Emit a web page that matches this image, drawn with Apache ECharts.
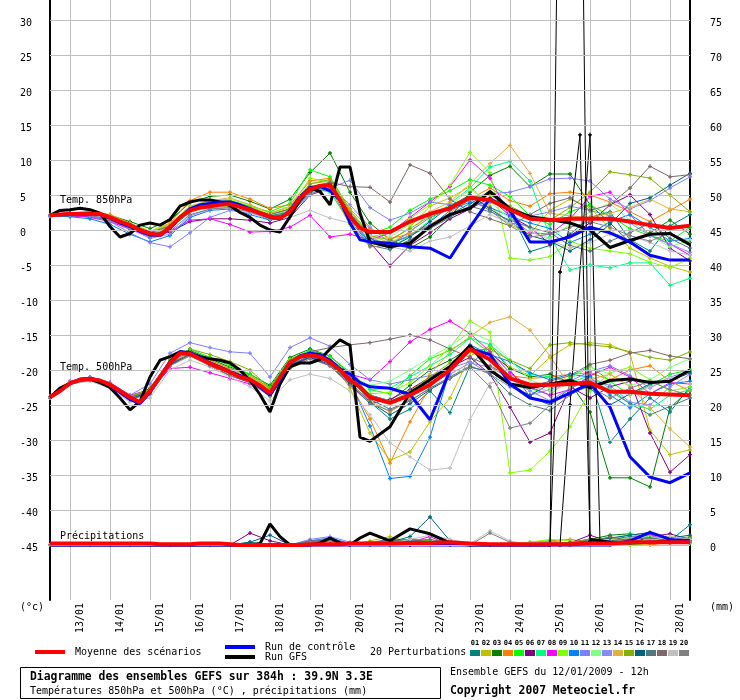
<!DOCTYPE html>
<html><head><meta charset="utf-8">
<script src="https://cdn.jsdelivr.net/npm/echarts@6/dist/echarts.min.js"></script>
<style>html,body{margin:0;padding:0;background:#fff}#c{width:740px;height:700px}</style>
</head><body><div id="c"></div>
<script>
// ---------- categories / ticks ----------
const CATEGORY_HOURS = [0,6,12,18,24,30,36,42,48,54,60,66,72,78,84,90,96,102,108,114,120,126,132,138,144,150,156,162,168,174,180,186,192,198,204,210,216,222,228,234,240,246,252,258,264,270,276,282,288,294,300,306,312,318,324,330,336,342,348,354,360,366,372,378,384];
const Y_TICKS_C = [-45,-40,-35,-30,-25,-20,-15,-10,-5,0,5,10,15,20,25,30];
const Y_TICKS_MM = [0,5,10,15,20,25,30,35,40,45,50,55,60,65,70,75];
const HOURS_MAIN = [0,6,12,18,24,30,36,42,48,54,60,66,72,78,84,90,96,102,108,114,120,126,132,138,144,150,156,162,168,174,180,186,192,204,216,228,240,252,264,276,288,300,312,324,336,348,360,372,384];
const HOURS_PERT = [0,12,24,36,48,60,72,84,96,108,120,132,144,156,168,180,192,204,216,228,240,252,264,276,288,300,312,324,336,348,360,372,384];

// ---------- main series ----------
const MEAN_850 = [2.1,2.2,2.3,2.3,2.3,2.3,1.8,1.2,0.7,0.0,-0.5,-0.7,0.4,1.8,2.8,3.2,3.4,3.6,3.7,3.3,2.9,2.4,1.9,1.7,2.6,4.6,5.8,6.3,6.4,4.3,1.9,0.3,-0.3,
  -0.3,1.2,2.3,3.1,4.6,4.3,2.9,1.6,1.4,1.6,1.6,1.6,1.2,0.7,0.3,0.6];
const CTRL_850 = [2.1,2.2,2.3,2.4,2.3,2.2,1.7,1.0,0.5,-0.2,-0.7,-0.8,0.2,1.8,3.0,3.6,3.8,4.0,4.0,3.6,3.0,2.4,1.8,1.6,2.8,4.8,6.0,6.2,5.6,4.3,1.0,-1.4,-1.7,
  -1.9,-2.4,-2.6,-4.0,0.4,4.5,2.8,-1.7,-1.7,-1.0,0.4,-0.4,-1.7,-3.6,-4.3,-4.3];
const GFS_850 = [2.1,2.8,2.9,3.1,2.9,2.4,0.5,-1.0,-0.5,0.7,1.0,0.7,1.5,3.4,4.0,4.3,4.3,4.0,3.5,2.5,1.8,0.7,0.0,-0.3,1.9,4.3,6.0,5.5,3.6,9.0,9.0,2.4,-1.7,
  -2.4,-1.9,0.5,2.2,3.1,5.5,3.0,1.9,1.5,1.0,0.0,-2.5,-1.5,-0.6,-0.5,-2.1];
const MEAN_500 = [-23.9,-23.0,-21.9,-21.4,-21.3,-21.5,-22.1,-23.0,-23.9,-24.6,-23.0,-21.0,-19.0,-17.6,-17.7,-18.4,-19.1,-19.7,-20.3,-21.0,-21.4,-22.2,-23.3,-21.0,-18.9,-18.1,-17.9,-18.1,-18.9,-20.0,-21.4,-22.4,-23.9,
  -24.7,-23.6,-22.1,-20.0,-17.0,-18.5,-21.2,-22.1,-22.1,-22.0,-21.8,-23.1,-23.1,-23.4,-23.5,-23.6];
const CTRL_500 = [-23.9,-23.0,-21.9,-21.3,-21.2,-21.5,-22.2,-23.2,-24.2,-24.8,-23.2,-21.0,-18.8,-17.4,-17.5,-18.2,-19.0,-19.6,-20.2,-20.8,-21.4,-22.4,-23.6,-21.4,-19.0,-18.0,-17.6,-17.8,-18.6,-19.8,-20.6,-21.8,-22.4,
  -22.6,-23.5,-27.1,-20.0,-17.0,-17.8,-22.0,-24.0,-24.6,-23.3,-21.9,-25.3,-32.4,-35.3,-36.1,-34.7];
const GFS_500 = [-23.9,-22.6,-21.9,-21.4,-21.3,-21.8,-22.5,-24.0,-25.7,-24.5,-21.0,-18.6,-18.1,-17.4,-17.6,-18.1,-18.4,-18.6,-19.0,-20.0,-21.5,-23.5,-26.0,-22.0,-19.5,-19.0,-19.0,-18.5,-17.0,-15.7,-16.5,-29.6,-30.2,
  -28.1,-23.3,-21.4,-19.5,-16.5,-20.0,-22.0,-22.5,-22.0,-21.5,-22.5,-21.5,-21.3,-21.8,-21.6,-20.0];
const MEAN_PRECIP = [0.2,0.2,0.2,0.2,0.2,0.2,0.2,0.2,0.2,0.2,0.2,0.1,0.1,0.1,0.1,0.2,0.2,0.2,0.1,0,0,0,0,0,0,0,0.1,0.1,0.1,0.1,0.2,0.2,0.2,
  0.2,0.3,0.3,0.4,0.2,0.1,0.1,0.1,0.1,0.1,0.2,0.2,0.4,0.4,0.4,0.4];
const CTRL_PRECIP = [0,0,0,0,0,0,0,0,0,0,0,0,0,0,0,0,0,0,0,0,0,0,0,0,0,0,0,0,0,0,0,0,0,
  0,0,0,0,0,0,0,0,0,0,0,0,0.6,1.8,0.8,0.6];
const GFS_PRECIP = [0,0,0,0,0,0,0,0,0,0,0,0,0,0,0,0,0,0,0,0,0,0.2,3.0,1.2,0,0,0,0.3,1.0,0.3,0,1.0,1.7,
  0.6,2.3,1.6,0.3,0,0,0,0,0,null,0.8,0.4,0.3,0.4,0.5,0.5];
const GFS_SPIKE_HOURS = [300,312,324];
const GFS_SPIKE_PRECIP = [0,240,0.8];
const THIN_A_HOURS = [300,306,312,318,324];
const THIN_A_PRECIP = [0,39,46,58.6,0.5];
const THIN_B_HOURS = [306,312,324,330];
const THIN_B_PRECIP = [0,20,58.6,0.3];

// ---------- 20 perturbations ----------
const PERT_COLORS = ['#008080','#c0c000','#008000','#ff8000','#00ff00','#800080','#00ff80','#ff00ff','#80ff00','#0080ff',
  '#8080ff','#80ff80','#8888ff','#e0b040','#80b000','#006080','#507880','#806868','#c0c0c0','#808080'];
const PERT_850 = [
 [2.0,2.4,2.2,1.6,0.5,-0.8,0.2,2.6,3.6,3.8,2.6,1.4,2.2,5.6,6.8,2.4,-1.2,-2.0,-0.8,0.6,2.2,3.8,5.2,2.6,-3.1,-2.2,-0.6,1.8,2.6,-1.4,-3.0,0.6,2.2],
 [2.1,2.2,2.5,2.0,0.9,-0.3,0.8,3.0,3.9,4.2,3.3,2.2,3.0,6.4,5.6,0.8,-2.2,-1.6,0.4,3.4,4.6,6.2,3.4,0.8,-0.6,2.8,4.4,3.2,0.2,-2.6,-4.0,-5.2,-6.0],
 [2.2,2.4,2.6,2.1,1.2,0.2,1.4,3.9,4.8,5.0,4.1,3.0,4.4,8.2,11.0,5.4,1.0,-1.4,-2.6,-1.0,1.8,5.4,7.8,9.1,6.2,8.0,8.0,3.6,1.0,-1.8,-0.4,1.4,-0.6],
 [2.1,2.3,2.7,2.2,1.0,-0.2,1.0,4.2,5.4,5.4,4.4,3.1,3.6,7.0,7.4,3.0,0.2,-1.2,-0.6,0.8,2.4,4.4,6.0,4.2,3.4,5.2,5.4,5.0,4.0,2.6,1.2,2.8,4.4],
 [2.0,2.1,2.4,1.8,0.7,-0.4,0.8,3.2,4.0,4.2,3.4,2.6,3.8,8.6,7.6,2.8,-0.6,0.4,2.8,4.4,5.6,7.2,6.4,4.8,2.0,0.8,2.6,3.6,2.0,0.2,-0.8,-1.6,0.4],
 [1.9,2.0,1.9,1.4,0.2,-0.8,-0.3,1.2,1.6,1.6,1.4,1.0,1.8,5.0,6.0,2.0,-1.8,-5.1,-2.2,-0.4,1.6,3.0,4.6,2.0,0.4,-2.0,-0.8,1.0,3.6,5.0,2.2,-2.6,-4.4],
 [2.1,2.3,2.3,1.8,0.6,-0.6,0.2,2.8,3.6,3.9,3.0,2.0,2.8,6.0,5.4,1.2,-1.6,-2.6,-0.8,1.4,3.8,6.0,9.0,9.8,7.0,-1.0,-5.7,-5.0,-5.4,-4.7,-4.7,-7.9,-6.9],
 [2.0,2.1,1.8,1.2,0.1,-1.0,-0.2,1.4,1.6,0.8,-0.3,-0.2,0.4,2.1,-1.0,-0.6,-1.4,-0.4,1.8,4.0,6.2,10.0,7.4,1.8,-0.4,-0.6,1.6,4.8,5.4,2.2,-0.8,-2.0,-3.6],
 [2.1,2.2,2.4,2.0,0.9,-0.2,0.9,3.4,4.2,4.4,3.6,2.4,3.2,7.4,6.8,2.2,-1.0,-0.4,1.6,3.6,6.4,11.1,8.2,-4.0,-4.3,-3.8,-1.6,-2.6,-3.0,-3.4,-4.6,-5.4,-4.0],
 [2.0,1.9,1.6,0.8,-0.6,-1.7,-0.8,1.8,2.8,3.0,2.2,1.4,2.2,5.4,6.6,1.4,-1.8,-2.6,-1.6,0.4,2.8,4.0,3.2,2.0,1.0,0.2,-1.8,-0.6,1.2,2.2,0.4,-1.6,-1.2],
 [2.0,2.1,2.0,1.2,-0.4,-1.8,-2.4,-0.4,1.8,2.8,2.4,1.8,2.6,6.2,6.0,7.1,3.2,1.4,2.4,4.0,3.6,4.6,5.2,5.4,6.2,7.3,7.4,7.0,4.4,3.0,4.2,6.0,7.6],
 [2.1,2.3,2.2,1.6,0.4,-0.8,0.4,2.6,3.2,3.4,2.8,2.0,2.6,5.2,6.2,1.6,-1.4,-1.0,0.8,2.4,3.4,5.8,4.0,1.6,0.2,-1.2,0.8,2.6,3.8,1.4,-0.8,-2.4,-1.4],
 [2.1,2.2,2.1,1.4,0.2,-1.2,-0.6,2.0,3.0,3.2,2.6,1.8,2.4,5.0,6.4,3.6,0.4,-1.8,-0.8,0.8,2.2,3.4,4.0,3.0,2.0,2.6,3.4,2.8,2.0,1.0,-0.8,-2.0,-3.2],
 [2.1,2.3,2.5,2.0,0.8,-0.4,0.8,3.4,4.2,4.6,3.6,2.4,3.4,6.6,7.0,2.8,-0.8,-1.8,-0.4,2.6,4.0,6.6,9.5,12.1,8.1,2.4,2.0,1.8,2.4,3.2,4.4,3.0,2.6],
 [2.1,2.2,2.3,1.8,0.6,-0.6,0.6,3.0,3.8,4.0,3.2,2.2,3.0,6.6,7.2,2.6,-0.8,-1.4,0.2,2.0,3.2,4.8,5.0,3.4,2.0,1.4,3.2,5.4,8.3,7.9,7.4,5.0,2.6],
 [2.1,2.3,2.2,1.6,0.4,-0.8,0.2,2.6,3.4,3.6,2.8,1.8,2.4,5.4,6.6,2.2,-1.2,-2.6,-1.0,1.2,3.4,5.0,3.0,1.2,-0.8,-1.6,-3.0,-1.4,0.8,3.8,4.6,6.4,8.1],
 [2.1,2.2,2.2,1.6,0.5,-0.6,0.4,2.8,3.6,3.8,3.0,2.0,2.6,5.8,6.4,1.4,-2.2,-2.8,-1.4,0.2,1.8,3.4,2.6,1.4,0.4,-0.4,-2.2,-3.0,-1.6,-0.4,1.0,-1.2,-2.6],
 [2.1,2.3,2.4,1.9,0.8,-0.4,0.6,3.0,3.6,3.8,3.0,2.2,3.0,6.2,6.8,6.2,6.1,4.0,9.3,8.1,4.4,2.6,1.6,0.6,2.2,3.8,4.6,2.8,3.6,6.0,9.1,7.6,7.9],
 [2.1,2.2,2.2,1.6,0.4,-0.6,0.4,2.6,3.2,3.2,2.4,1.6,1.8,2.8,1.7,1.0,-0.8,-2.4,-3.0,-1.6,-1.0,0.6,2.2,1.0,-0.2,-1.4,-2.6,-1.8,-0.6,-0.8,-1.8,-3.0,-3.6],
 [2.1,2.2,2.1,1.5,0.3,-0.9,-0.2,2.2,3.0,3.2,2.6,1.6,2.4,5.2,6.0,1.0,-2.4,-2.2,-0.2,1.8,3.0,4.4,2.8,0.6,-1.0,-0.6,0.4,1.2,0.4,-0.8,-1.6,-0.4,-1.8]
];
const PERT_500 = [
 [-24.0,-22.0,-21.2,-22.4,-24.2,-23.4,-19.4,-17.6,-18.8,-20.2,-21.2,-22.8,-19.2,-17.6,-18.4,-21.0,-24.6,-27.0,-25.6,-23.0,-26.1,-19.4,-16.4,-20.0,-23.8,-25.0,-22.6,-21.0,-30.3,-27.0,-24.0,-26.0,-22.4],
 [-23.8,-21.8,-21.2,-22.0,-23.8,-22.8,-18.8,-17.4,-18.6,-19.8,-20.8,-22.6,-18.6,-17.4,-18.4,-22.6,-29.0,-32.9,-31.7,-27.4,-24.0,-18.0,-16.6,-19.6,-20.8,-18.2,-16.4,-16.1,-16.4,-17.6,-28.6,-32.1,-31.4],
 [-23.9,-21.8,-21.4,-22.2,-24.0,-22.6,-18.6,-17.2,-18.4,-19.6,-20.6,-22.2,-18.2,-17.0,-18.0,-20.6,-23.6,-24.4,-22.2,-20.0,-18.6,-16.8,-17.6,-19.8,-21.0,-20.6,-21.8,-26.0,-35.4,-35.4,-36.7,-25.4,-22.8],
 [-23.9,-21.9,-21.2,-22.0,-23.8,-22.8,-18.8,-17.4,-18.6,-19.8,-20.8,-22.6,-18.6,-17.6,-18.6,-22.0,-27.0,-33.3,-27.4,-22.4,-19.6,-17.4,-18.6,-20.8,-21.2,-21.0,-20.6,-20.4,-21.4,-20.0,-19.4,-21.6,-23.0],
 [-23.9,-21.9,-21.4,-22.1,-23.9,-22.8,-18.6,-17.0,-18.2,-19.4,-20.6,-22.4,-18.4,-17.2,-18.0,-20.4,-22.8,-23.4,-20.8,-18.4,-17.2,-15.4,-17.6,-21.0,-22.6,-23.6,-21.0,-19.4,-21.6,-23.6,-22.2,-20.6,-20.0],
 [-24.0,-22.0,-21.4,-22.3,-24.1,-23.2,-19.2,-17.8,-19.4,-20.8,-21.8,-23.6,-19.6,-18.2,-19.4,-22.0,-24.8,-24.2,-22.8,-21.0,-19.6,-18.2,-20.6,-25.3,-30.3,-29.0,-22.4,-24.0,-22.4,-21.6,-29.0,-34.6,-32.1],
 [-23.9,-21.9,-21.3,-22.1,-23.9,-22.9,-18.9,-17.6,-18.9,-20.0,-21.0,-22.8,-18.8,-17.6,-18.6,-20.2,-22.8,-22.6,-21.0,-19.4,-17.8,-15.4,-16.4,-18.8,-20.6,-21.0,-21.8,-20.8,-22.6,-24.8,-25.6,-23.6,-22.8],
 [-23.8,-21.6,-21.0,-21.8,-23.6,-22.8,-19.8,-19.6,-20.4,-21.2,-22.0,-23.4,-19.4,-18.2,-18.8,-20.6,-21.4,-18.8,-16.0,-14.2,-13.0,-14.8,-17.4,-20.4,-22.4,-23.6,-22.8,-20.8,-19.6,-21.0,-23.4,-21.8,-22.0],
 [-23.9,-21.8,-21.2,-22.0,-23.8,-22.8,-18.8,-17.6,-18.8,-20.0,-21.0,-22.8,-18.6,-17.4,-18.4,-21.0,-23.4,-23.2,-21.8,-19.4,-16.8,-13.0,-14.6,-34.7,-34.3,-31.6,-28.1,-23.0,-20.4,-19.6,-21.4,-23.0,-22.4],
 [-24.0,-22.0,-21.5,-22.4,-24.2,-23.2,-19.2,-17.8,-19.0,-20.4,-21.6,-23.6,-19.4,-18.0,-19.0,-21.6,-28.0,-35.5,-35.2,-29.6,-20.0,-16.4,-17.8,-18.8,-20.4,-21.4,-20.6,-21.0,-23.6,-25.4,-23.4,-22.0,-21.6],
 [-23.8,-21.7,-21.0,-21.8,-23.6,-22.0,-17.6,-16.1,-16.8,-17.4,-17.6,-21.0,-16.8,-15.4,-16.6,-19.2,-21.4,-22.0,-21.4,-20.8,-19.8,-18.8,-20.6,-22.4,-23.6,-22.8,-21.6,-20.2,-19.4,-20.8,-22.6,-21.0,-20.2],
 [-23.9,-21.9,-21.3,-22.1,-23.9,-22.8,-18.8,-17.6,-18.8,-20.0,-21.0,-22.8,-18.6,-17.6,-18.6,-20.8,-22.2,-21.6,-20.0,-18.2,-16.6,-14.6,-15.8,-18.6,-21.4,-22.6,-21.2,-19.6,-20.6,-22.2,-21.4,-19.6,-18.4],
 [-23.9,-22.0,-21.4,-22.2,-24.0,-23.0,-18.8,-17.4,-18.8,-20.0,-21.2,-23.0,-18.8,-17.8,-18.8,-21.2,-23.6,-24.4,-23.4,-21.8,-20.6,-19.0,-19.6,-21.2,-23.0,-24.4,-22.6,-21.4,-22.2,-24.6,-25.0,-22.4,-20.6],
 [-23.9,-21.9,-21.3,-22.1,-23.9,-22.9,-18.9,-17.6,-18.8,-20.0,-21.0,-22.8,-18.8,-17.8,-18.8,-21.4,-24.4,-26.0,-24.2,-20.6,-17.4,-15.2,-13.2,-12.4,-14.3,-18.0,-22.4,-21.4,-20.6,-22.4,-25.4,-28.4,-31.0],
 [-23.9,-21.8,-21.2,-22.0,-23.8,-22.8,-18.6,-17.0,-17.8,-18.8,-20.0,-22.6,-18.6,-17.6,-18.6,-21.0,-23.6,-24.6,-23.0,-21.0,-19.0,-17.2,-17.0,-18.6,-19.8,-16.4,-16.1,-16.4,-16.7,-17.4,-18.2,-18.6,-17.4],
 [-24.0,-22.0,-21.4,-22.3,-24.1,-23.2,-19.2,-17.8,-19.0,-20.4,-21.4,-23.4,-19.2,-18.2,-19.2,-21.8,-24.6,-26.4,-24.8,-22.8,-21.2,-19.6,-20.2,-22.2,-23.6,-22.0,-21.4,-22.6,-25.0,-23.4,-22.0,-21.6,-20.4],
 [-23.9,-21.9,-21.3,-22.1,-23.9,-23.0,-19.0,-17.8,-19.2,-20.4,-21.4,-23.4,-19.2,-18.0,-19.0,-21.4,-24.2,-25.6,-24.4,-22.6,-21.0,-19.4,-20.6,-23.4,-25.0,-25.8,-23.6,-22.0,-23.0,-24.8,-26.4,-25.2,-24.0],
 [-23.9,-21.9,-21.4,-22.2,-24.0,-23.0,-19.0,-17.8,-19.0,-20.4,-21.4,-23.2,-18.8,-17.4,-16.8,-16.4,-16.1,-15.6,-15.0,-15.7,-17.0,-18.2,-19.4,-21.0,-22.4,-21.6,-20.8,-19.2,-18.6,-17.6,-17.2,-18.0,-18.4],
 [-24.0,-22.0,-21.6,-22.6,-24.6,-24.0,-20.0,-18.6,-19.6,-21.0,-22.4,-24.4,-21.4,-20.6,-21.2,-23.0,-26.4,-30.4,-32.4,-34.3,-34.0,-27.1,-21.9,-21.2,-22.4,-23.0,-22.0,-21.4,-22.8,-23.6,-22.4,-21.0,-22.0],
 [-24.0,-22.0,-21.4,-22.4,-24.2,-23.4,-19.4,-18.0,-19.4,-20.8,-21.8,-23.8,-19.8,-18.4,-19.4,-22.2,-24.8,-25.8,-24.4,-22.6,-21.2,-19.6,-22.4,-28.3,-27.6,-25.0,-23.2,-22.4,-24.0,-22.6,-21.6,-22.8,-23.6]
];
const PERT_PRECIP = [
 [0,0,0,0,0,0,0,0,0,0,0.4,0,0,0.2,0.6,0,0,0.3,0.8,0.4,0,0,0,0,0,0,0,0.3,0.8,1.2,1.0,0.6,2.9],
 [0,0,0,0,0,0,0,0,0,0,0,0,0,0.3,0.4,0,0.6,1.2,0.4,0,0,0,0,0,0,0,0.4,0.8,0.6,1.0,0.8,0.4,0.6],
 [0,0,0,0,0,0,0,0,0,0,0,0,0,0.4,0.8,0.2,0,0,0.4,0.2,0,0,0,0,0,0,0.2,0.8,1.4,1.6,1.2,0.4,0.8],
 [0,0,0,0,0,0,0,0,0,0,0,0,0,0.2,0.3,0,0.4,0.8,0,0,0,0,0,0,0,0.6,0.8,0.4,0.2,0,0,0.4,0.6],
 [0,0,0,0,0,0,0,0,0,0,0,0,0,0.5,0.8,0.2,0,0.4,0.8,0.6,0,0,0,0,0.4,0.6,0.2,0,0,0.4,0.8,0.6,0.4],
 [0,0,0,0,0,0,0,0,0,0,1.7,0.6,0,0.3,0.6,0,0,0,0,0,0,0,0,0,0,0,0.3,1.4,0.4,0.2,1.2,1.6,0.8],
 [0,0,0,0,0,0,0,0,0,0,0,0,0,0.2,0.3,0,0,0,0.4,0.2,0,0,0,0,0,0,0,0,0.6,1.6,0.8,0.4,0.2],
 [0,0,0,0,0,0,0,0,0,0,0,0,0,0.4,0.8,0,0.2,0.6,0.4,1.2,0,0,0,0,0,0,0.4,0.8,0.6,1.0,1.5,0.4,0.6],
 [0,0,0,0,0,0,0,0,0,0,0,0,0,0.3,0.6,0.2,0.4,0.4,0.2,0,0,0,0,0,0.4,0.8,0.6,0.2,0,0,0.2,0.3,0.6],
 [0,0,0,0,0,0,0,0,0,0,0,0,0,0.6,1.0,0.2,0.3,0.8,0.6,0.2,0,0,0,0,0,0,0.2,0.6,0.4,0.2,0.4,0.6,1.0],
 [0,0,0,0,0,0,0,0,0,0,0,0,0,0.8,1.2,0.4,0,0,0.2,0,0,0,0,0,0,0.2,0.4,0.2,0,0.2,0.4,0.6,0.8],
 [0,0,0,0,0,0,0,0,0,0,0,0,0,0.2,0.4,0,0,0.3,0.4,0.2,0,0,0,0,0,0,0.2,0.6,0.8,1.0,1.2,0.8,0.6],
 [0,0,0,0,0,0,0,0,0,0,0,0,0,0.5,0.8,0.2,0,0,0.6,0.4,0,0,0,0,0.2,0.4,0.3,0,0.2,0.4,0.6,0.4,0.6],
 [0,0,0,0,0,0,0,0,0,0,0,0,0,0.3,0.4,0,0.2,0.6,0.4,0,0,0,0,0,0,0,0,0.2,0.4,0.8,1.0,1.2,0.8],
 [0,0,0,0,0,0,0,0,0,0,0,0,0,0.4,0.6,0.2,0,0.4,0.8,0.6,0.2,0,0,0,0,0,0.4,0.8,1.0,0.6,0.4,0.6,1.2],
 [0,0,0,0,0,0,0,0,0,0,0.4,1.4,0,0.4,0.6,0,0,0.4,1.2,4.0,0.6,0,0,0,0,0,0.3,0.6,1.0,1.4,1.8,1.0,1.4],
 [0,0,0,0,0,0,0,0,0,0,0,0,0,0.6,0.8,0.2,0,0.2,0.6,0.8,0.3,0,0,0,0,0,0.2,0.4,0.6,0.8,1.0,0.6,0.8],
 [0,0,0,0,0,0,0,0,0,0,0,0,0,0.4,0.6,0.3,0.4,0.6,0.8,0.4,0.2,0,0,0,0,0,0,0.4,1.2,0.6,0.4,0.8,0.6],
 [0,0,0,0,0,0,0,0,0,0,0,0,0,0.2,0.4,0,0,0.2,0.8,1.4,0.8,0.2,2.0,0.6,0,0,0,0,0,0.2,0.6,1.2,0.8],
 [0,0,0,0,0,0,0,0,0,0,0,0,0,0.4,0.6,0.2,0,0,0.2,0.4,0,0,1.7,0.4,0,0,0,0.2,0.4,0.6,0.4,0.2,0.4]
];

// ---------- build ----------
const FONT = '"DejaVu Sans Mono", "Liberation Mono", monospace';
const C_MIN = -45 - 55/7, C_MAX = 30 + 20/7;       // °C axis extent
const MM_MIN = C_MIN + 45, MM_MAX = C_MAX + 45;     // mm axis extent (same scale)
const PLUS = 'path://M1,0H2V1H3V2H2V3H1V2H0V1H1Z';

function pairs(hours, vals) { return hours.map((h, i) => [h / 6, vals[i]]); }

const series = [];
series.push({
  type: 'line', name: 'grid', data: [], z: 1, silent: true,
  markLine: { silent: true, symbol: 'none', animation: false,
    label: { show: false }, emphasis: { disabled: true },
    lineStyle: { color: '#c0c0c0', width: 1, type: 'solid' },
    data: Y_TICKS_C.map(v => ({ yAxis: v })) }
});
function thin(hours, vals, color, yIdx) {
  return { type: 'line', data: pairs(hours, vals), yAxisIndex: yIdx, z: 2,
    symbol: PLUS, symbolSize: 4, showAllSymbol: true, silent: true,
    itemStyle: { color: color }, lineStyle: { color: color, width: 1 } };
}
for (let m = 0; m < 20; m++) {
  series.push(thin(HOURS_PERT, PERT_850[m], PERT_COLORS[m], 0));
  series.push(thin(HOURS_PERT, PERT_500[m], PERT_COLORS[m], 0));
  series.push(thin(HOURS_PERT, PERT_PRECIP[m], PERT_COLORS[m], 1));
}
function thick(vals, color, width, yIdx, z) {
  return { type: 'line', data: pairs(HOURS_MAIN, vals), yAxisIndex: yIdx, z: z,
    symbol: 'none', silent: true, connectNulls: false,
    lineStyle: { color: color, width: width } };
}
series.push(thick(GFS_850, '#000', 3, 0, 3));
series.push(thick(GFS_500, '#000', 3, 0, 3));
series.push(thick(GFS_PRECIP, '#000', 3, 1, 3));
series.push({ type: 'line', data: pairs(GFS_SPIKE_HOURS, GFS_SPIKE_PRECIP), yAxisIndex: 1, z: 3,
  symbol: 'none', silent: true, lineStyle: { color: '#000', width: 1 } });
series.push(Object.assign(thin(THIN_A_HOURS, THIN_A_PRECIP, '#000', 1), { z: 3 }));
series.push(Object.assign(thin(THIN_B_HOURS, THIN_B_PRECIP, '#000', 1), { z: 3 }));
series.push(thick(CTRL_850, '#0000ff', 3, 0, 4));
series.push(thick(CTRL_500, '#0000ff', 3, 0, 4));
series.push(thick(CTRL_PRECIP, '#0000ff', 3, 1, 4));
series.push(thick(MEAN_850, '#ff0000', 4, 0, 5));
series.push(thick(MEAN_500, '#ff0000', 4, 0, 5));
series.push(thick(MEAN_PRECIP, '#ff0000', 4, 1, 5));

const T = (x, y, s, font, extra) => ({ type: 'text', x: x, y: y, z: 10,
  style: Object.assign({ text: s, fill: '#000', font: font || ('10px ' + FONT), verticalAlign: 'middle' }, extra || {}) });
const graphic = [];
graphic.push(T(60, 200, 'Temp. 850hPa'));
graphic.push(T(60, 367, 'Temp. 500hPa'));
graphic.push(T(60, 536, 'Précipitations'));
graphic.push(T(20, 607, '(°c)'));
graphic.push(T(710, 607, '(mm)'));
// legend
graphic.push({ type: 'rect', shape: { x: 35, y: 650, width: 30, height: 4 }, style: { fill: '#ff0000' } });
graphic.push(T(75, 652, 'Moyenne des scénarios'));
graphic.push({ type: 'rect', shape: { x: 225, y: 645, width: 30, height: 4 }, style: { fill: '#0000ff' } });
graphic.push(T(265, 647, 'Run de contrôle'));
graphic.push({ type: 'rect', shape: { x: 225, y: 655, width: 30, height: 4 }, style: { fill: '#000' } });
graphic.push(T(265, 657.5, 'Run GFS'));
graphic.push(T(370, 652, '20 Perturbations'));
for (let m = 0; m < 20; m++) {
  graphic.push({ type: 'rect', shape: { x: 470 + 11 * m, y: 650, width: 10, height: 6 }, style: { fill: PERT_COLORS[m] } });
  graphic.push(T(475 + 11 * m, 643.5, String(m + 1).padStart(2, '0'), 'bold 7px ' + FONT, { align: 'center' }));
}
graphic.push({ type: 'rect', shape: { x: 20.5, y: 667.5, width: 420, height: 31 }, style: { fill: 'none', stroke: '#000', lineWidth: 1 } });
graphic.push(T(30, 677.5, 'Diagramme des ensembles GEFS sur 384h : 39.9N 3.3E', 'bold 11.4px ' + FONT));
graphic.push(T(30, 691, 'Températures 850hPa et 500hPa (°C) , précipitations (mm)'));
graphic.push(T(450, 672, 'Ensemble GEFS du 12/01/2009 - 12h'));
graphic.push(T(450, 691, 'Copyright 2007 Meteociel.fr', 'bold 11.4px ' + FONT));

const isTick = (v, arr) => arr.some(t => Math.abs(t - v) < 1e-6);
const yLabel = (ticks, margin) => ({ show: true, customValues: ticks, align: 'left', margin: margin,
  color: '#000', fontFamily: FONT, fontSize: 10,
  formatter: v => isTick(v, ticks) ? '{t|' + Math.round(v) + '}' : '',
  rich: { t: { fontFamily: FONT, fontSize: 10, color: '#000', padding: [6, 0, 0, 0] } } });
const option = {
  animation: false,
  backgroundColor: '#fff',
  grid: { left: 50, right: 50, top: 0, bottom: 100, containLabel: false, outerBoundsMode: 'none' },
  xAxis: {
    type: 'category', boundaryGap: false, data: CATEGORY_HOURS.map(String),
    axisLine: { show: true, lineStyle: { color: '#000', width: 1 } },
    axisTick: { show: false },
    splitLine: { show: true, interval: (i) => i % 4 === 2, lineStyle: { color: '#c0c0c0', width: 1 } },
    axisLabel: { show: true, rotate: 90, margin: 3, color: '#000', fontFamily: FONT, fontSize: 10,
      interval: (i) => i % 4 === 3,
      formatter: (v) => { const d = 12 + Math.floor((Number(v) + 12) / 24); return String(d).padStart(2, '0') + '/01'; } }
  },
  yAxis: [
    { type: 'value', position: 'left', min: C_MIN, max: C_MAX, splitNumber: 17,
      axisLine: { show: true, lineStyle: { color: '#000', width: 2 } },
      axisTick: { show: false }, splitLine: { show: false }, axisLabel: yLabel(Y_TICKS_C, 30) },
    { type: 'value', position: 'right', min: MM_MIN, max: MM_MAX, splitNumber: 17,
      axisLine: { show: true, lineStyle: { color: '#000', width: 2 } },
      axisTick: { show: false }, splitLine: { show: false }, axisLabel: yLabel(Y_TICKS_MM, 20) }
  ],
  graphic: graphic,
  series: series
};
const chart = echarts.init(document.getElementById('c'), null, { renderer: 'canvas' });
chart.setOption(option);
</script></body></html>
